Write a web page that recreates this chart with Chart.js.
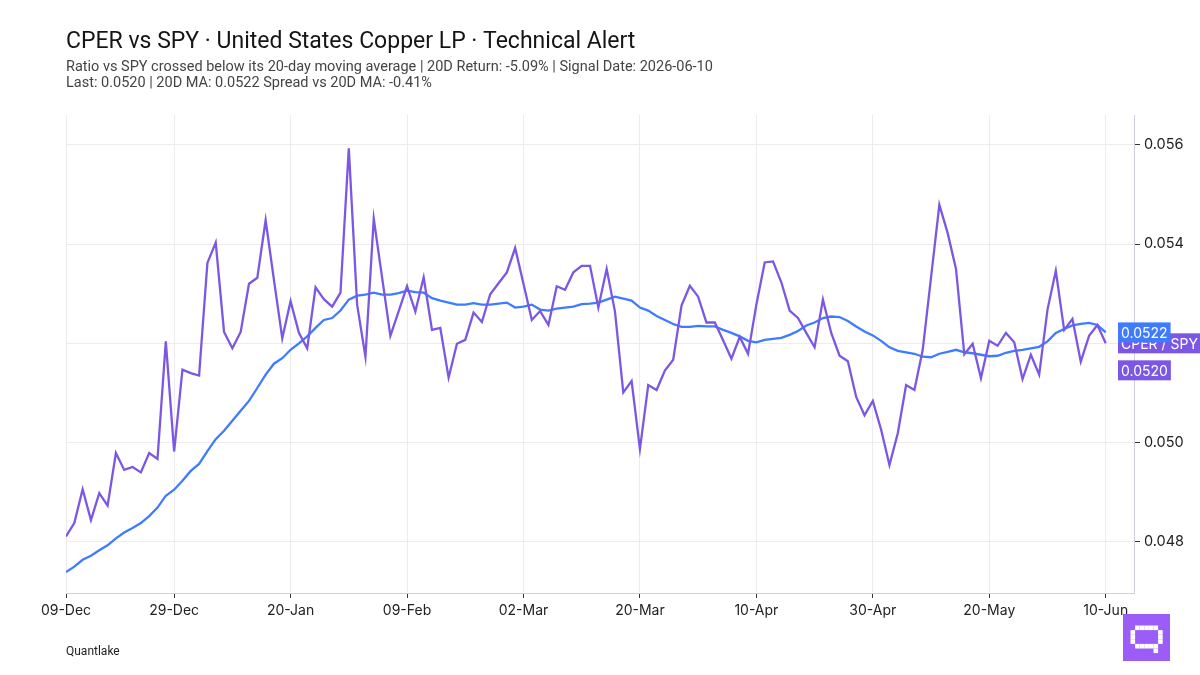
<!DOCTYPE html>
<html>
<head>
<meta charset="utf-8">
<script src="https://cdn.jsdelivr.net/npm/chart.js@4.4.1/dist/chart.umd.min.js"></script>
<style>
  body { margin: 0; background: #ffffff; }
  #chart { display: block; }
</style>
</head>
<body>
<canvas id="chart" width="1200" height="675"></canvas>
<script>
// CPER / SPY ratio vs its 20-day moving average (trading days only)
const startDate = '2025-12-09';
const endDate = '2026-06-10';
const holidays = ['2025-12-25', '2026-01-01', '2026-01-19', '2026-02-16', '2026-04-03', '2026-05-25'];
const tickDates = ['2025-12-09', '2025-12-29', '2026-01-20', '2026-02-09', '2026-03-02',
                   '2026-03-20', '2026-04-10', '2026-04-30', '2026-05-20', '2026-06-10'];
const yTicks = [0.048, 0.050, 0.052, 0.054, 0.056];

const ratio = [
    0.04811, 0.04838, 0.04906, 0.04844, 0.04898, 0.04873, 0.04979, 0.04945, 0.04951, 0.04940,
    0.04979, 0.04967, 0.05204, 0.04982, 0.05147, 0.05140, 0.05135, 0.05362, 0.05403, 0.05223,
    0.05190, 0.05223, 0.05320, 0.05332, 0.05448, 0.05328, 0.05210, 0.05285, 0.05221, 0.05190,
    0.05313, 0.05289, 0.05274, 0.05302, 0.05593, 0.05278, 0.05173, 0.05451, 0.05333, 0.05215,
    0.05265, 0.05315, 0.05264, 0.05333, 0.05227, 0.05231, 0.05131, 0.05199, 0.05207, 0.05262,
    0.05243, 0.05299, 0.05321, 0.05343, 0.05392, 0.05320, 0.05247, 0.05265, 0.05237, 0.05315,
    0.05308, 0.05343, 0.05356, 0.05356, 0.05272, 0.05350, 0.05264, 0.05101, 0.05124, 0.04987,
    0.05116, 0.05106, 0.05145, 0.05167, 0.05276, 0.05316, 0.05294, 0.05242, 0.05242, 0.05206,
    0.05169, 0.05213, 0.05179, 0.05278, 0.05363, 0.05365, 0.05323, 0.05266, 0.05251, 0.05221,
    0.05192, 0.05288, 0.05221, 0.05175, 0.05164, 0.05092, 0.05055, 0.05084, 0.05026, 0.04955,
    0.05019, 0.05116, 0.05106, 0.05187, 0.05333, 0.05479, 0.05422, 0.05350, 0.05178, 0.05199,
    0.05130, 0.05205, 0.05195, 0.05221, 0.05202, 0.05128, 0.05177, 0.05137, 0.05268, 0.05346,
    0.05227, 0.05249, 0.05163, 0.05215, 0.05237, 0.05200
];

const ma20 = [
    0.04739, 0.04750, 0.04764, 0.04772, 0.04783, 0.04793, 0.04807, 0.04819, 0.04828, 0.04838,
    0.04852, 0.04869, 0.04893, 0.04905, 0.04923, 0.04943, 0.04957, 0.04983, 0.05007, 0.05024,
    0.05044, 0.05064, 0.05084, 0.05110, 0.05137, 0.05159, 0.05170, 0.05187, 0.05200, 0.05214,
    0.05231, 0.05247, 0.05251, 0.05266, 0.05288, 0.05296, 0.05298, 0.05302, 0.05298, 0.05298,
    0.05301, 0.05306, 0.05303, 0.05302, 0.05291, 0.05286, 0.05282, 0.05278, 0.05278, 0.05281,
    0.05278, 0.05278, 0.05280, 0.05282, 0.05272, 0.05274, 0.05278, 0.05268, 0.05266, 0.05270,
    0.05272, 0.05274, 0.05279, 0.05280, 0.05282, 0.05288, 0.05294, 0.05290, 0.05286, 0.05272,
    0.05266, 0.05255, 0.05247, 0.05239, 0.05233, 0.05233, 0.05235, 0.05234, 0.05234, 0.05227,
    0.05221, 0.05214, 0.05205, 0.05202, 0.05207, 0.05209, 0.05211, 0.05217, 0.05225, 0.05236,
    0.05242, 0.05251, 0.05254, 0.05253, 0.05245, 0.05234, 0.05224, 0.05216, 0.05205, 0.05192,
    0.05185, 0.05182, 0.05179, 0.05173, 0.05172, 0.05179, 0.05183, 0.05187, 0.05182, 0.05180,
    0.05177, 0.05174, 0.05175, 0.05181, 0.05185, 0.05187, 0.05190, 0.05193, 0.05204, 0.05221,
    0.05229, 0.05236, 0.05239, 0.05241, 0.05237, 0.05222
];

const titleText = 'CPER vs SPY \u00B7 United States Copper LP \u00B7 Technical Alert';
const subtitleLines = [
    'Ratio vs SPY crossed below its 20-day moving average | 20D Return: -5.09% | Signal Date: 2026-06-10',
    'Last: 0.0520 | 20D MA: 0.0522 Spread vs 20D MA: -0.41%'
];
const seriesName = 'CPER / SPY';
const sourceText = 'Quantlake';

const PURPLE = '#7b57e4';
const BLUE = '#3f7bff';
const GRID = '#ebebf0';
const AXIS = '#cfd0dc';
const TEXT = '#222222';

const MONTHS = ['Jan','Feb','Mar','Apr','May','Jun','Jul','Aug','Sep','Oct','Nov','Dec'];

function tradingDays() {
    const out = [];
    const d = new Date(startDate + 'T00:00:00Z');
    const end = new Date(endDate + 'T00:00:00Z');
    while (d <= end) {
        const dow = d.getUTCDay();
        const iso = d.toISOString().slice(0, 10);
        if (dow !== 0 && dow !== 6 && !holidays.includes(iso)) out.push(iso);
        d.setUTCDate(d.getUTCDate() + 1);
    }
    return out;
}

const dates = tradingDays();
const tickIdx = tickDates.map(t => dates.indexOf(t));

function fmtDate(iso) {
    if (!iso) return '';
    return iso.slice(8, 10) + '-' + MONTHS[parseInt(iso.slice(5, 7), 10) - 1];
}

// Titles, source line and logo
const decorPlugin = {
    id: 'decor',
    afterDraw(chart) {
        const c = chart.ctx;
        c.save();
        c.textAlign = 'left';
        c.textBaseline = 'alphabetic';
        c.fillStyle = '#151515';
        c.font = '400 23px Roboto';
        c.fillText(titleText, 66, 48);
        c.fillStyle = '#444444';
        c.font = '400 14.5px Roboto';
        c.fillText(subtitleLines[0], 66, 71);
        c.fillText(subtitleLines[1], 66, 87);
        c.fillStyle = '#222222';
        c.font = '400 12px Roboto';
        c.fillText(sourceText, 66, 655);

        // logo
        const lx = 1123, ly = 614, ls = 47;
        c.fillStyle = '#9b5cf8';
        c.fillRect(lx, ly, ls, ls);
        c.fillStyle = '#ffffff';
        const cell = 4.6, ox = lx + 7.5, oy = ly + 11.5;
        const glyph = ['.#####.', '#.....#', '#.....#', '#.....#', '.#####.', '.....#.'];
        glyph.forEach((row, r) => {
            for (let k = 0; k < row.length; k++) {
                if (row[k] === '#') c.fillRect(ox + k * cell, oy + r * cell, cell, cell);
            }
        });
        c.restore();
    }
};

// Last-value tags on the right edge
const tagPlugin = {
    id: 'tags',
    afterDraw(chart) {
        const c = chart.ctx;
        const y = chart.scales.y;
        const lastR = ratio[ratio.length - 1];
        const lastM = ma20[ma20.length - 1];
        const x0 = 1118;
        c.save();
        c.font = '400 14px Inter';
        c.textBaseline = 'middle';
        const tag = (text, cy, bg) => {
            const w = c.measureText(text).width + 6;
            c.fillStyle = bg;
            c.fillRect(x0, cy - 10, w, 20);
            c.fillStyle = '#ffffff';
            c.fillText(text, x0 + 3, cy + 1);
        };
        const yr = y.getPixelForValue(lastR);
        const ym = y.getPixelForValue(lastM);
        tag(seriesName, yr, PURPLE);
        tag(lastM.toFixed(4), ym, BLUE);
        tag(lastR.toFixed(4), yr + 27, PURPLE);
        c.restore();
    }
};

new Chart(document.getElementById('chart'), {
    type: 'line',
    data: {
        datasets: [
            {
                label: seriesName,
                data: ratio.map((v, i) => ({ x: i, y: v })),
                borderColor: PURPLE,
                borderWidth: 2.3,
                pointRadius: 0,
                tension: 0
            },
            {
                label: '20D MA',
                data: ma20.map((v, i) => ({ x: i, y: v })),
                borderColor: BLUE,
                borderWidth: 2.3,
                pointRadius: 0,
                tension: 0
            }
        ]
    },
    options: {
        responsive: false,
        animation: false,
        devicePixelRatio: 1,
        layout: { padding: { left: 66, top: 115, right: 0, bottom: 0 } },
        plugins: {
            legend: { display: false },
            tooltip: { enabled: false }
        },
        scales: {
            x: {
                type: 'linear',
                min: 0,
                max: 128.4,
                afterBuildTicks: (s) => { s.ticks = tickIdx.map(v => ({ value: v })); },
                afterFit: (s) => { s.height = 82; },
                ticks: {
                    autoSkip: false,
                    maxRotation: 0,
                    padding: 4,
                    color: TEXT,
                    font: { family: 'Inter', size: 14 },
                    callback: (v) => fmtDate(dates[v])
                },
                grid: { color: GRID, tickColor: '#333333', tickLength: 5 },
                border: { color: AXIS }
            },
            y: {
                position: 'right',
                min: 0.04697,
                max: 0.0566,
                afterBuildTicks: (s) => { s.ticks = yTicks.map(v => ({ value: v })); },
                afterFit: (s) => { s.width = 66; },
                ticks: {
                    padding: 4,
                    color: TEXT,
                    font: { family: 'Inter', size: 14.5 },
                    callback: (v) => v.toFixed(3)
                },
                grid: { color: GRID, tickColor: '#333333', tickLength: 6 },
                border: { color: AXIS }
            }
        }
    },
    plugins: [decorPlugin, tagPlugin]
});
</script>
</body>
</html>
